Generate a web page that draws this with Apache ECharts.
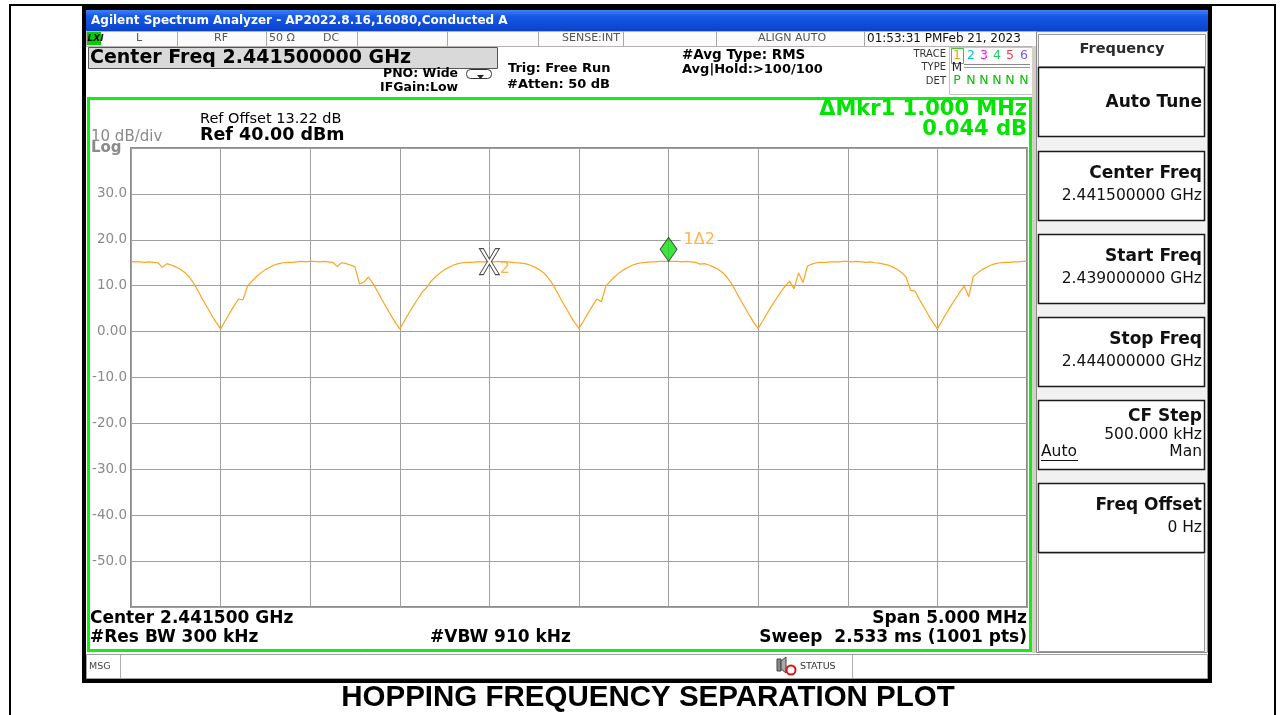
<!DOCTYPE html>
<html>
<head>
<meta charset="utf-8">
<title>Hopping Frequency Separation Plot</title>
<script src="https://cdn.jsdelivr.net/npm/echarts@6/dist/echarts.min.js"></script>
<style>
  html, body { margin: 0; padding: 0; background: #fff; }
  #chart { width: 1285px; height: 715px; }
</style>
</head>
<body>
<div id="chart"></div>
<script>
// sweep: 2.439 GHz .. 2.444 GHz, one reading every 25 kHz
var startMHz = 2439;
var stepMHz = 0.025;

// trace 1 level (dBm)
var traceDbm = [
  15.3, 15.2, 15.2, 15.1, 15.2, 15.1, 15.0, 14.0, 14.8, 14.5, 14.1, 13.6, 12.9, 11.9, 10.5, 8.8, 7.0, 5.3, 3.6, 2.0, 0.6,
  2.3, 4.0, 5.6, 7.1, 6.9, 9.9, 11.0, 12.0, 12.8, 13.5, 14.0, 14.5, 14.8, 15.0, 15.1, 15.1, 15.2, 15.3, 15.2, 15.3,
  15.3, 15.2, 15.3, 15.2, 15.1, 14.2, 15.0, 14.8, 14.5, 14.1, 10.4, 10.8, 11.9, 10.5, 8.8, 7.0, 5.3, 3.6, 2.0, 0.6,
  2.3, 4.0, 5.6, 7.1, 8.6, 9.6, 11.0, 12.0, 12.8, 13.5, 14.0, 14.5, 14.8, 15.0, 15.1, 15.1, 15.2, 15.2, 15.2, 15.25,
  15.2, 15.3, 15.2, 15.2, 15.1, 15.0, 14.9, 14.8, 14.5, 14.1, 13.6, 12.9, 11.9, 10.5, 8.8, 7.0, 5.3, 3.6, 2.0, 0.7,
  2.3, 4.0, 5.6, 7.1, 6.5, 9.9, 11.0, 12.0, 12.8, 13.5, 14.0, 14.5, 14.8, 15.0, 15.1, 15.2, 15.2, 15.3, 15.3, 15.3,
  15.3, 15.3, 15.2, 15.3, 15.2, 15.1, 14.7, 14.8, 14.5, 14.1, 13.6, 12.9, 11.9, 10.5, 8.8, 7.0, 5.3, 3.6, 2.0, 0.7,
  2.3, 4.0, 5.6, 7.1, 8.6, 9.9, 11.0, 9.3, 12.8, 10.7, 14.3, 14.7, 15.0, 15.1, 15.1, 15.2, 15.2, 15.2, 15.3, 15.3,
  15.2, 15.3, 15.2, 15.1, 15.2, 15.0, 14.9, 14.7, 14.5, 14.1, 13.6, 12.9, 11.9, 9.0, 8.8, 7.0, 5.3, 3.6, 2.0, 0.6,
  2.3, 4.0, 5.6, 7.1, 8.6, 9.9, 7.6, 12.0, 12.8, 13.5, 14.0, 14.5, 14.8, 15.0, 15.1, 15.1, 15.2, 15.2, 15.3, 15.3
];

// markers (delta marker 1 relative to marker 2)
var markerNames = ['1Δ2', '2'];
var markerFreqMHz = [2442.0, 2441.0];
var markerDbm = [15.3, 15.25];

// y scale: ref level 40 dBm, 10 dB/div
var refLevel = 40;
var bottomLevel = -60;

// softkeys on the right
var softKeys = [
  { title: 'Auto Tune', value: '' },
  { title: 'Center Freq', value: '2.441500000 GHz' },
  { title: 'Start Freq', value: '2.439000000 GHz' },
  { title: 'Stop Freq', value: '2.444000000 GHz' },
  { title: 'CF Step', value: '500.000 kHz' },
  { title: 'Freq Offset', value: '0 Hz' }
];

var traceNums = ['1', '2', '3', '4', '5', '6'];
var traceDet = ['P', 'N', 'N', 'N', 'N', 'N'];

var FONT = '"DejaVu Sans", Verdana, sans-serif';
var ORANGE = '#ffa41c';
var GREEN = '#00e400';

var traceData = traceDbm.map(function (v, i) {
  return [startMHz + i * stepMHz, v];
});

function rect(x, y, w, h, fill, stroke, lw, z) {
  return {
    type: 'rect', silent: true, z: z == null ? -10 : z,
    shape: { x: x, y: y, width: w, height: h },
    style: { fill: fill || 'rgba(0,0,0,0)', stroke: stroke || null, lineWidth: lw || 0 }
  };
}
function txt(x, y, s, font, color, align) {
  return {
    type: 'text', silent: true, z: 50, x: x, y: y,
    style: { text: s, font: font, fill: color || '#000', textAlign: align || 'left', textVerticalAlign: 'middle' }
  };
}
function seg(x1, y1, x2, y2, color, lw) {
  return {
    type: 'line', silent: true, z: 40,
    shape: { x1: x1, y1: y1, x2: x2, y2: y2 },
    style: { stroke: color, lineWidth: lw || 1 }
  };
}

var g = [];
// page table border
g.push(rect(10, 5, 1265, 740, null, '#000', 2, -20));
// analyzer screen frame
g.push(rect(82, 5, 1130, 678, '#000', null, 0, -20));
g.push(rect(86, 10, 1122, 668, '#fff', null, 0, -19));
// window title bar
g.push({
  type: 'rect', silent: true, z: -15,
  shape: { x: 86, y: 10, width: 1122, height: 21 },
  style: {
    fill: new echarts.graphic.LinearGradient(0, 0, 0, 1, [
      { offset: 0, color: '#3f80f6' },
      { offset: 0.3, color: '#1659e8' },
      { offset: 1, color: '#0a43c9' }
    ])
  }
});
g.push(txt(91, 20.5, 'Agilent Spectrum Analyzer - AP2022.8.16,16080,Conducted A', 'bold 12px ' + FONT, '#fff'));

// status row
g.push(rect(86.5, 31.5, 950, 15, '#fbfbfb', '#b4b4b4', 1, -14));
g.push(rect(87, 32, 14, 13, '#00d000', null, 0, -13));
g.push(txt(87.5, 38.5, 'LXI', 'italic bold 9px ' + FONT, '#000'));
[177, 266, 357, 447, 538, 623, 716, 864].forEach(function (x) {
  g.push(seg(x + 0.5, 31, x + 0.5, 46, '#a8a8a8', 1));
});
var stFont = '11px ' + FONT;
g.push(txt(139, 38.5, 'L', stFont, '#555', 'center'));
g.push(txt(221, 38.5, 'RF', stFont, '#555', 'center'));
g.push(txt(269, 38.5, '50 Ω', stFont, '#555'));
g.push(txt(323, 38.5, 'DC', stFont, '#555'));
g.push(txt(620, 38.5, 'SENSE:INT', stFont, '#555', 'right'));
g.push(txt(792, 38.5, 'ALIGN AUTO', stFont, '#555', 'center'));
g.push(txt(867, 38.5, '01:53:31 PMFeb 21, 2023', '12px ' + FONT, '#111'));

// top info area
g.push(rect(88.5, 47.5, 409, 21, '#d9d9d9', '#555', 1, -12));
g.push(txt(90, 58.5, 'Center Freq 2.441500000 GHz', 'bold 19px ' + FONT, '#000'));
g.push(txt(383, 74, 'PNO: Wide', 'bold 12.5px ' + FONT, '#000'));
g.push(txt(380, 88, 'IFGain:Low', 'bold 12.5px ' + FONT, '#000'));
g.push({
  type: 'rect', silent: true, z: 40,
  shape: { x: 466.5, y: 69.5, width: 25, height: 9, r: 4 },
  style: { fill: '#fff', stroke: '#333', lineWidth: 1 }
});
g.push({
  type: 'polygon', silent: true, z: 41,
  shape: { points: [[477, 75], [484, 75], [480.5, 79]] },
  style: { fill: '#222' }
});
g.push(txt(508, 69, 'Trig: Free Run', 'bold 13px ' + FONT, '#000'));
g.push(txt(507, 85, '#Atten: 50 dB', 'bold 13px ' + FONT, '#000'));
g.push(txt(682, 55, '#Avg Type: RMS', 'bold 13.5px ' + FONT, '#000'));
g.push(txt(682, 70, 'Avg|Hold:>100/100', 'bold 13px ' + FONT, '#000'));
g.push(txt(946, 54, 'TRACE', '10px ' + FONT, '#333', 'right'));
g.push(txt(946, 67, 'TYPE', '10px ' + FONT, '#333', 'right'));
g.push(txt(946, 81, 'DET', '10px ' + FONT, '#333', 'right'));
g.push(rect(949.5, 47.5, 84, 47, '#fff', '#c4c4c4', 1, -12));
g.push(rect(951.5, 48.5, 12, 15, null, '#3cc83c', 1, 30));
var traceColors = ['#f5a300', '#00c8e0', '#ff10ff', '#22d060', '#ff3355', '#7a55ff'];
var traceX = [957, 971, 984, 997, 1010, 1024];
traceNums.forEach(function (n, i) {
  g.push(txt(traceX[i], 56, n, '12.5px ' + FONT, traceColors[i], 'center'));
  g.push(txt(traceX[i], 81, traceDet[i], '12.5px ' + FONT, '#00c000', 'center'));
});
g.push(txt(957, 68, 'M', '12px ' + FONT, '#222', 'center'));
var zig = [];
for (var zx = 964; zx <= 1030; zx += 3) zig.push([zx, (zx / 3) % 2 ? 64.5 : 70.5]);
g.push({ type: 'polyline', silent: true, z: 40, shape: { points: zig }, style: { stroke: '#8a8a8a', lineWidth: 1, fill: null } });
g.push(seg(964, 67.5, 1030, 67.5, '#9a9a9a', 1));

// right softkey panel
g.push(rect(1032, 46, 5, 607, '#d4d0c8', null, 0, -12));
g.push(rect(1036.5, 31.5, 171, 621, '#f1f1f1', '#8a8a8a', 1, -12));
g.push(rect(1038.5, 34.5, 167, 32, '#fff', '#9a9a9a', 1, -11));
g.push(txt(1122, 49.5, 'Frequency', 'bold 14.5px ' + FONT, '#2a2a2a', 'center'));
var keyTops = [67, 151, 234, 317, 400, 483];
softKeys.forEach(function (k, i) {
  var t = keyTops[i];
  g.push(rect(1038.5, t + 0.5, 166, 69, '#fff', '#1a1a1a', 1.5, -11));
  if (!k.value) {
    g.push(txt(1202, t + 36, k.title, 'bold 17px ' + FONT, '#111', 'right'));
  } else {
    var ty = i === 4 ? t + 17 : t + 23;
    g.push(txt(1202, ty, k.title, 'bold 17px ' + FONT, '#111', 'right'));
    g.push(txt(1202, ty + (i === 4 ? 18 : 22), k.value, '15.5px ' + FONT, '#111', 'right'));
  }
});
g.push(txt(1041, 452, 'Auto', '15.5px ' + FONT, '#111'));
g.push(seg(1041, 460.5, 1078, 460.5, '#111', 1));
g.push(txt(1202, 452, 'Man', '15.5px ' + FONT, '#111', 'right'));
g.push(rect(1038.5, 553.5, 166, 98, '#fff', '#9a9a9a', 1, -11));

// green measurement window
g.push(rect(88.5, 98.5, 942, 552, '#fff', '#11ee11', 3, -10));

// bottom message bar
g.push(rect(86.5, 654.5, 1121, 24, '#fff', '#a0a0a0', 1, -10));
g.push(seg(120.5, 655, 120.5, 678, '#b0b0b0', 1));
g.push(seg(852.5, 655, 852.5, 678, '#b0b0b0', 1));
g.push(txt(89, 666.5, 'MSG', '9.5px ' + FONT, '#444'));
g.push(rect(777, 659, 4, 12, '#888', '#444', 1, 40));
g.push({ type: 'polygon', silent: true, z: 40, shape: { points: [[781, 661], [786, 657], [786, 673], [781, 669]] }, style: { fill: '#aaa', stroke: '#444', lineWidth: 1 } });
g.push({ type: 'circle', silent: true, z: 42, shape: { cx: 791, cy: 670, r: 4.5 }, style: { fill: '#fff', stroke: '#e01010', lineWidth: 2 } });
g.push(seg(788, 667, 794, 673, '#e01010', 2));
g.push(txt(800, 666.5, 'STATUS', '9.5px ' + FONT, '#333'));

// annotations in the graph window
g.push(txt(200, 119, 'Ref Offset 13.22 dB', '14.5px ' + FONT, '#000'));
g.push(txt(200, 135.5, 'Ref 40.00 dBm', 'bold 17.5px ' + FONT, '#000'));
g.push(txt(91, 137, '10 dB/div', '15px ' + FONT, '#8a8a8a'));
g.push(txt(91, 148, 'Log', 'bold 15px ' + FONT, '#8a8a8a'));
g.push(txt(1027, 110, 'ΔMkr1 1.000 MHz', 'bold 21px ' + FONT, GREEN, 'right'));
g.push(txt(1027, 130, '0.044 dB', 'bold 21px ' + FONT, GREEN, 'right'));
g.push(txt(90, 619, 'Center 2.441500 GHz', 'bold 17px ' + FONT, '#000'));
g.push(txt(1027, 619, 'Span 5.000 MHz', 'bold 17px ' + FONT, '#000', 'right'));
g.push(txt(90, 638, '#Res BW 300 kHz', 'bold 17px ' + FONT, '#000'));
g.push(txt(430, 638, '#VBW 910 kHz', 'bold 17px ' + FONT, '#000'));
g.push(txt(1027, 638, 'Sweep  2.533 ms (1001 pts)', 'bold 17px ' + FONT, '#000', 'right'));

// caption under the screenshot
g.push(txt(648, 698, 'HOPPING FREQUENCY SEPARATION PLOT', 'bold 29.5px "Liberation Sans", Arial, sans-serif', '#000', 'center'));

var markerStyles = [
  {
    symbol: 'diamond', symbolSize: [17, 24], symbolOffset: [0, -12],
    itemStyle: { color: '#10dd10', borderColor: '#2a2a2a', borderWidth: 1 },
    label: { offset: [-2, -10], backgroundColor: '#fff', padding: [0, 3] }
  },
  {
    symbol: 'path://M0,0 L4,0 L10,8 L16,0 L20,0 L12,10 L20,20 L16,20 L10,12 L4,20 L0,20 L8,10 Z',
    symbolSize: [20, 26], symbolOffset: [0, 0],
    itemStyle: { color: '#fff', borderColor: '#222', borderWidth: 1 },
    label: { offset: [-5, 7] }
  }
];
var markerData = markerNames.map(function (name, i) {
  var s = markerStyles[i];
  return {
    value: [markerFreqMHz[i], markerDbm[i]],
    symbol: s.symbol, symbolSize: s.symbolSize, symbolOffset: s.symbolOffset,
    itemStyle: s.itemStyle,
    label: Object.assign({
      show: true, formatter: name, position: 'right',
      color: ORANGE, fontSize: 16, fontFamily: FONT
    }, s.label)
  };
});

var chart = echarts.init(document.getElementById('chart'));
chart.setOption({
  animation: false,
  backgroundColor: '#fff',
  graphic: g,
  grid: {
    left: 131, top: 148, width: 896, height: 459,
    show: true, borderColor: '#8c8c8c', borderWidth: 2, backgroundColor: 'rgba(0,0,0,0)'
  },
  xAxis: {
    type: 'value', min: 2439, max: 2444, interval: 0.5,
    axisLine: { show: false }, axisTick: { show: false }, axisLabel: { show: false },
    splitLine: { show: true, lineStyle: { color: '#a0a0a0', width: 1 } }
  },
  yAxis: {
    type: 'value', min: bottomLevel, max: refLevel, interval: 10,
    axisLine: { show: false }, axisTick: { show: false },
    axisLabel: {
      showMinLabel: false, showMaxLabel: false, margin: 4,
      color: '#8a8a8a', fontSize: 13.5, fontFamily: FONT,
      formatter: function (v) { return v === 0 ? '0.00' : v.toFixed(1); }
    },
    splitLine: { show: true, lineStyle: { color: '#a0a0a0', width: 1 } }
  },
  series: [
    {
      name: 'Trace 1', type: 'line', data: traceData, showSymbol: false, silent: true,
      lineStyle: { color: ORANGE, width: 1.2 }, z: 3
    },
    {
      name: 'Markers', type: 'scatter', data: markerData, silent: true, z: 5
    }
  ]
});
</script>
</body>
</html>
